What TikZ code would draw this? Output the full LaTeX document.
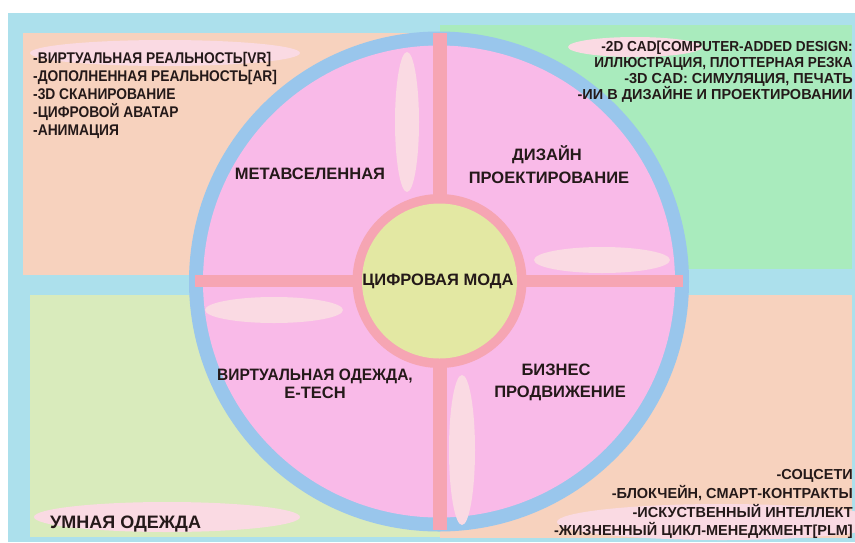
\documentclass[tikz,border=0pt]{standalone}
\usepackage{fontspec}
\setmainfont{Liberation Sans}
\newfontfamily\listfont[FakeStretch=0.89]{Liberation Sans}
\newfontfamily\narrowfont[FakeStretch=0.94]{Liberation Sans}
\definecolor{frameblue}{HTML}{ACE0EC}
\definecolor{peach}{HTML}{F7D2BE}
\definecolor{mint}{HTML}{A9EBBD}
\definecolor{lime}{HTML}{D9EBBC}
\definecolor{ringblue}{HTML}{99C6EC}
\definecolor{pinkfill}{HTML}{F9BAE8}
\definecolor{salmon}{HTML}{F6A5B3}
\definecolor{coreyellow}{HTML}{E3E8A3}
\definecolor{paleell}{HTML}{FADAE3}
\definecolor{ink}{HTML}{241919}
\tikzset{
  lbl/.style={inner sep=0pt, text=ink},
  listtext/.style={lbl, font=\listfont\bfseries\fontsize{15.5}{18}\selectfont},
  listtr/.style={lbl, font=\bfseries\fontsize{14.5}{16}\selectfont},
  listtrn/.style={lbl, font=\narrowfont\bfseries\fontsize{14.5}{16}\selectfont},
  sector/.style={lbl, font=\bfseries\fontsize{16.5}{20}\selectfont},
  glow/.style={fill=paleell},
  bar/.style={draw=salmon, line cap=butt},
}
\begin{document}
\begin{tikzpicture}[x=1pt,y=-1pt]
\useasboundingbox (0,0) rectangle (855,542);
\fill[white] (0,0) rectangle (855,542);
\fill[frameblue] (8,13) rectangle (855,542);
% panels
\fill[peach] (23,33) rectangle (440,275);
\fill[mint] (440,25) rectangle (852,269);
\fill[lime] (30,295) rectangle (440,537);
\fill[peach] (440,295) rectangle (852,538);
% panel glows
\fill[glow] (165,53) ellipse [x radius=135, y radius=13];
\fill[glow] (635,47) ellipse [x radius=67, y radius=10];
\fill[glow] (722,522) ellipse [x radius=165, y radius=18];
\fill[glow] (167,517) ellipse [x radius=133, y radius=15];
% main disc
\fill[ringblue] (439,281.5) circle [radius=250];
\fill[pinkfill] (439,281.5) circle [radius=236];
% glows inside disc
\fill[glow] (407,122) ellipse [x radius=12, y radius=70];
\fill[glow] (602,260) ellipse [x radius=68, y radius=13];
\fill[glow] (274,310) ellipse [x radius=69, y radius=13];
\fill[glow] (462,450) ellipse [x radius=13, y radius=75];
% cross bars
\coordinate (vtop) at (440,33);
\coordinate (vbot) at (440,530);
\coordinate (hleft) at (195,281);
\coordinate (hright) at (683,281);
\draw[bar, line width=14] (vtop) -- (vbot);
\draw[bar, line width=12] (hleft) -- (hright);
% core
\fill[salmon] (439.5,281) circle [radius=87];
\fill[coreyellow] (439.5,281) circle [radius=77.5];
\node[sector, anchor=base] (core) at (438,285) {ЦИФРОВАЯ МОДА};
% sectors
\node[sector, anchor=base] (meta) at (310,179) {МЕТАВСЕЛЕННАЯ};
\node[sector, anchor=base] (des1) at (547,160) {ДИЗАЙН};
\node[sector, anchor=base] (des2) at (549,183) {ПРОЕКТИРОВАНИЕ};
\node[sector, anchor=base, font=\narrowfont\bfseries\fontsize{16.5}{20}\selectfont] (vir1) at (315,380) {ВИРТУАЛЬНАЯ ОДЕЖДА,};
\node[sector, anchor=base] (vir2) at (315,398) {Е-ТЕСН};
\node[sector, anchor=base] (biz1) at (556,375) {БИЗНЕС};
\node[sector, anchor=base] (biz2) at (560,397) {ПРОДВИЖЕНИЕ};
% top-left list
\node[listtext, anchor=base west] (tl1) at (33,63) {-ВИРТУАЛЬНАЯ РЕАЛЬНОСТЬ[VR]};
\node[listtext, anchor=base west] (tl2) at (33,81) {-ДОПОЛНЕННАЯ РЕАЛЬНОСТЬ[AR]};
\node[listtext, anchor=base west] (tl3) at (33,99) {-3D СКАНИРОВАНИЕ};
\node[listtext, anchor=base west] (tl4) at (33,117) {-ЦИФРОВОЙ АВАТАР};
\node[listtext, anchor=base west] (tl5) at (33,135) {-АНИМАЦИЯ};
% top-right list
\node[listtrn, anchor=base east] (tr1) at (853,51) {-2D CAD[COMPUTER-ADDED DESIGN:};
\node[listtrn, anchor=base east] (tr2) at (853,67) {ИЛЛЮСТРАЦИЯ, ПЛОТТЕРНАЯ РЕЗКА};
\node[listtr, anchor=base east] (tr3) at (853,83) {-3D CAD: СИМУЛЯЦИЯ, ПЕЧАТЬ};
\node[listtr, anchor=base east] (tr4) at (853,99) {-ИИ В ДИЗАЙНЕ И ПРОЕКТИРОВАНИИ};
% bottom-right list
\node[listtr, anchor=base east] (br1) at (853,479) {-СОЦСЕТИ};
\node[listtr, anchor=base east] (br2) at (853,498) {-БЛОКЧЕЙН, СМАРТ-КОНТРАКТЫ};
\node[listtr, anchor=base east] (br3) at (853,517) {-ИСКУСТВЕННЫЙ ИНТЕЛЛЕКТ};
\node[listtr, anchor=base east] (br4) at (853,535) {-ЖИЗНЕННЫЙ ЦИКЛ-МЕНЕДЖМЕНТ[PLM]};
% bottom-left
\node[lbl, font=\bfseries\fontsize{18}{20}\selectfont, anchor=base west] (smart) at (50,528) {УМНАЯ ОДЕЖДА};
\end{tikzpicture}
\end{document}
